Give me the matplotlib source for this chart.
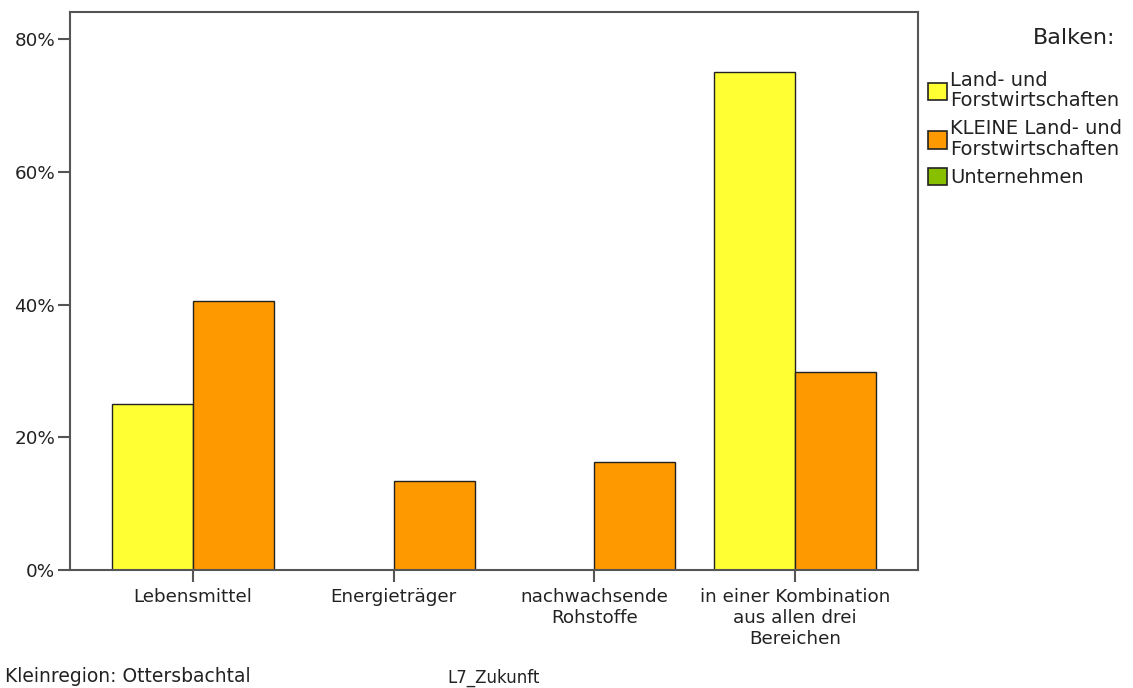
import matplotlib.pyplot as plt
import numpy as np
from matplotlib.patches import Patch

categories = ["Lebensmittel", "Energieträger", "nachwachsende\nRohstoffe",
              "in einer Kombination\naus allen drei\nBereichen"]
land_forst = [25.0, 0.0, 0.0, 75.0]
kleine_land_forst = [40.6, 13.4, 16.3, 29.8]
unternehmen = [0.0, 0.0, 0.0, 0.0]
series_names = ["Land- und\nForstwirtschaften", "KLEINE Land- und\nForstwirtschaften",
                "Unternehmen"]
colors = ["#FFFF33", "#FF9900", "#88C000"]
y_ticks = [0, 20, 40, 60, 80]

plt.rcParams["font.family"] = ["DejaVu Sans"]

fig = plt.figure(figsize=(11.33, 6.88), dpi=100)
ax = fig.add_axes([70 / 1133, 1 - 570 / 688, 848 / 1133, 558 / 688])

x = np.arange(len(categories))
width = 0.404
edge = "#222222"
ax.bar(x - width / 2, land_forst, width, color=colors[0], edgecolor=edge, linewidth=1)
ax.bar(x + width / 2, kleine_land_forst, width, color=colors[1], edgecolor=edge, linewidth=1)

ax.set_xlim(-0.613, 3.613)
ax.set_ylim(0, 84.07)
ax.set_yticks(y_ticks)
ax.set_yticklabels([f"{v}%" for v in y_ticks])
ax.set_xticks(x)
ax.set_xticklabels(categories, linespacing=1.25)

for s in ax.spines.values():
    s.set_color("#555555")
    s.set_linewidth(1.5)
ax.tick_params(axis="y", length=8.6, width=1.5, color="#555555", labelsize=13.2, pad=2,
               labelcolor="#222222")
ax.tick_params(axis="x", length=8.6, width=1.5, color="#555555", labelsize=13.2, pad=4,
               labelcolor="#222222")

handles = [Patch(facecolor=c, edgecolor=edge, linewidth=1.2) for c in colors]
leg = fig.legend(handles, series_names, loc="upper left", bbox_to_anchor=(928 / 1133, 1 - 71 / 688),
                 frameon=False, fontsize=14, handlelength=1.0, handleheight=1.0,
                 handletextpad=0.15, labelspacing=0.45, borderaxespad=0, borderpad=0)
for t in leg.get_texts():
    t.set_linespacing(1.1)
    t.set_color("#222222")
fig.text(1115 / 1133, 1 - 38 / 688, "Balken:", ha="right", va="center", fontsize=16, color="#222222")

fig.text(5 / 1133, 1 - 676 / 688, "Kleinregion: Ottersbachtal", ha="left", va="center",
         fontsize=13.5, color="#222222")
fig.text(447 / 1133, 1 - 678 / 688, "L7_Zukunft", ha="left", va="center", fontsize=12,
         color="#222222")

fig.savefig("out.png", dpi=100, facecolor="white")
